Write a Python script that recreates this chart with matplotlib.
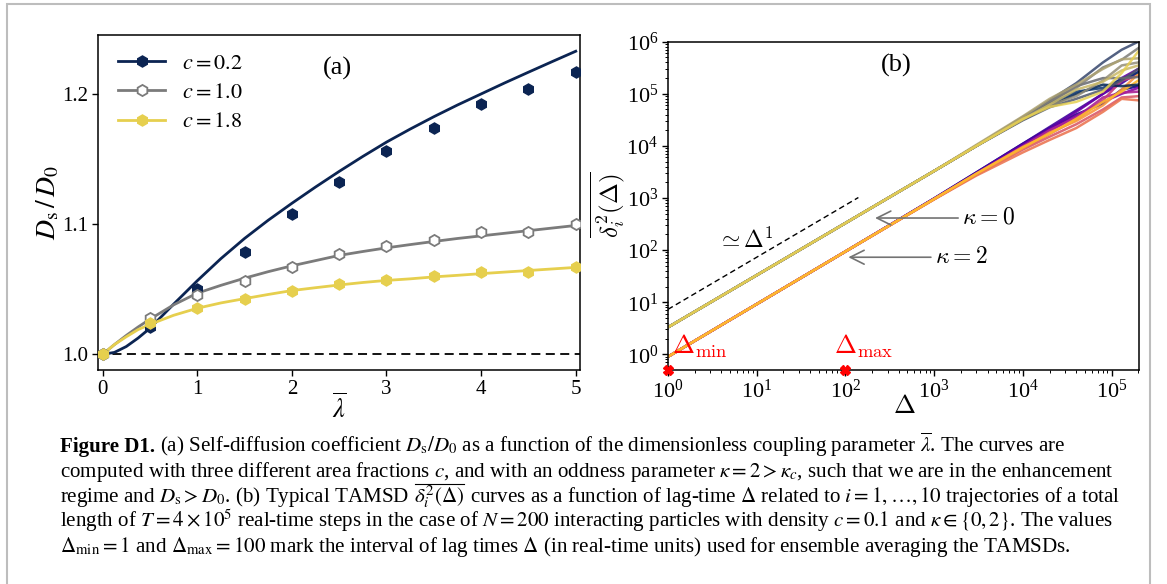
import numpy as np
import matplotlib
matplotlib.use('Agg')
import matplotlib.pyplot as plt
from matplotlib.patches import Rectangle
from matplotlib.lines import Line2D

plt.rcParams['font.family'] = ['Liberation Serif', 'DejaVu Serif']
plt.rcParams['mathtext.fontset'] = 'stix'

# ---------------- Panel (a) data ----------------
lam_sim = [0, 0.5, 1, 1.5, 2, 2.5, 3, 3.5, 4, 4.5, 5]
sim_c02 = [1.000, 1.021, 1.0505, 1.079, 1.108, 1.132, 1.156, 1.1736, 1.192, 1.204, 1.217]
sim_c10 = [1.000, 1.0277, 1.0456, 1.0567, 1.0674, 1.0769, 1.0831, 1.088, 1.0938, 1.0936, 1.100]
sim_c18 = [1.000, 1.0244, 1.0354, 1.0428, 1.049, 1.0538, 1.0572, 1.0603, 1.0631, 1.0636, 1.0669]

lam_th = [0, 0.125, 0.25, 0.375, 0.5, 0.75, 1, 1.25, 1.5, 1.75, 2, 2.25, 2.5, 2.75, 3,
          3.25, 3.5, 3.75, 4, 4.25, 4.5, 4.75, 5]
th_c02 = [1.000, 1.0015, 1.006, 1.0125, 1.020, 1.0385, 1.0565, 1.0735, 1.089, 1.103, 1.116,
          1.1285, 1.1405, 1.152, 1.163, 1.173, 1.1825, 1.1915, 1.200, 1.2085, 1.2167,
          1.2248, 1.2328]
th_c10 = [1.000, 1.0075, 1.0145, 1.021, 1.027, 1.038, 1.047, 1.053, 1.0585, 1.0635, 1.068,
          1.072, 1.076, 1.079, 1.0818, 1.0843, 1.0867, 1.089, 1.091, 1.093, 1.095, 1.097,
          1.099]
th_c18 = [1.000, 1.0075, 1.0135, 1.019, 1.023, 1.030, 1.0354, 1.0395, 1.0428, 1.046, 1.049,
          1.0512, 1.0533, 1.0552, 1.0568, 1.058, 1.0595, 1.0607, 1.062, 1.0632, 1.0644,
          1.0656, 1.0668]

labels_a = ['$c = 0.2$', '$c = 1.0$', '$c = 1.8$']
colors_a = ['#0b2452', '#7b7b7b', '#e6cf4e']

# ---------------- Panel (b) data ----------------
lag = [1, 10, 100, 1000, 3000, 1e4, 2e4, 4e4, 8e4, 1.3e5, 2e5]
tamsd_k0 = [
    [3.3, 33, 330, 3300, 1.0e4, 3.2e4, 5.8e4, 1.0e5, 1.5e5, 1.4e5, 1.5e5],
    [3.3, 33, 330, 3300, 1.0e4, 3.4e4, 6.5e4, 1.1e5, 1.3e5, 1.9e5, 2.6e5],
    [3.3, 33, 330, 3300, 1.0e4, 3.5e4, 7.5e4, 1.6e5, 4.0e5, 7.0e5, 1.0e6],
    [3.3, 33, 330, 3300, 1.0e4, 3.1e4, 5.5e4, 8.0e4, 1.2e5, 1.8e5, 3.0e5],
    [3.3, 33, 330, 3300, 1.0e4, 3.3e4, 6.8e4, 1.4e5, 2.0e5, 2.0e5, 2.1e5],
    [3.3, 33, 330, 3300, 1.0e4, 3.6e4, 7.2e4, 1.3e5, 3.2e5, 4.5e5, 7.5e5],
    [3.3, 33, 330, 3300, 1.0e4, 3.4e4, 6.0e4, 9.0e4, 1.8e5, 3.5e5, 4.0e5],
    [3.3, 33, 330, 3300, 1.05e4, 3.7e4, 8.0e4, 1.5e5, 3.0e5, 4.6e5, 4.8e5],
    [3.3, 33, 330, 3300, 1.0e4, 3.2e4, 6.2e4, 1.2e5, 1.7e5, 2.8e5, 3.5e5],
    [3.3, 33, 330, 3300, 1.0e4, 3.3e4, 5.6e4, 7.0e4, 1.1e5, 2.5e5, 6.5e5],
]
tamsd_k2 = [
    [0.9, 9.2, 94, 980, 3100, 1.1e4, 2.2e4, 4.0e4, 6.5e4, 1.2e5, 1.4e5],
    [0.9, 9.2, 94, 980, 3100, 1.1e4, 2.3e4, 4.8e4, 1.0e5, 1.6e5, 2.6e5],
    [0.9, 9.2, 94, 970, 3000, 1.05e4, 2.1e4, 4.5e4, 1.0e5, 2.0e5, 3.0e5],
    [0.9, 9.2, 94, 960, 2900, 9.5e3, 1.9e4, 3.8e4, 7.0e4, 1.0e5, 1.3e5],
    [0.9, 9.2, 94, 960, 2900, 9.8e3, 2.0e4, 3.5e4, 8.5e4, 1.05e5, 1.1e5],
    [0.9, 9.2, 94, 950, 2850, 9.0e3, 1.7e4, 3.2e4, 7.5e4, 1.8e5, 2.2e5],
    [0.9, 9.2, 94, 950, 2800, 8.5e3, 1.5e4, 2.6e4, 5.0e4, 8.5e4, 9.0e4],
    [0.9, 9.2, 94, 940, 2700, 7.5e3, 1.3e4, 2.2e4, 4.5e4, 8.0e4, 7.5e4],
    [0.9, 9.2, 94, 950, 2900, 9.0e3, 1.8e4, 3.0e4, 6.0e4, 1.2e5, 2.4e5],
    [0.9, 9.2, 94, 960, 2950, 9.5e3, 1.7e4, 3.3e4, 7.0e4, 1.1e5, 1.8e5],
]
guide_lag = [1, 140]
guide_val = [7.3, 1022]
marks_lag = [1, 100]

# ---------------- Figure ----------------
W, H = 1167, 584
fig = plt.figure(figsize=(W / 100, H / 100), dpi=100)

fig.add_artist(Rectangle((7 / W, -0.05), (1150 - 7) / W, 1 - 4 / H + 0.05,
                         transform=fig.transFigure, fill=False,
                         edgecolor='#bdbdbd', lw=1.5))

def px_axes(l, r, t, b):
    return [l / W, (H - b) / H, (r - l) / W, (b - t) / H]

# ---- panel (a)
axa = fig.add_axes(px_axes(98.3, 580, 34.7, 370))
axa.axhline(1.0, color='k', ls=(0, (5, 3)), lw=1.3, zorder=1)
for th, sim, col, i in zip([th_c02, th_c10, th_c18], [sim_c02, sim_c10, sim_c18],
                           colors_a, range(3)):
    axa.plot(lam_th, th, color=col, lw=2.0, zorder=2 + i)
    if i == 1:
        axa.plot(lam_sim, sim, ls='none', marker='h', ms=8, mfc='white', mec=col,
                 mew=1.3, zorder=5 + i)
    else:
        axa.plot(lam_sim, sim, ls='none', marker='h', ms=8, mfc=col, mec=col,
                 mew=1.0, zorder=5 + i)
axa.set_xlim(-0.045, 5.045)
axa.set_ylim(0.988, 1.2455)
axa.set_xticks([0, 1, 2, 3, 4, 5])
axa.set_yticks([1.0, 1.1, 1.2])
axa.set_yticklabels(['1.0', '1.1', '1.2'])
axa.tick_params(labelsize=15, length=4, width=1, direction='out', pad=3)
for s in axa.spines.values():
    s.set_linewidth(1.1)

handles = []
for i, col in enumerate(colors_a):
    if i == 1:
        h = Line2D([], [], color=col, lw=2.0, marker='h', ms=8, mfc='white', mec=col, mew=1.3)
    else:
        h = Line2D([], [], color=col, lw=2.0, marker='h', ms=8, mfc=col, mec=col)
    handles.append(h)
axa.legend(handles, labels_a, loc='upper left', frameon=False, fontsize=16,
           handlelength=2.1, handletextpad=0.75, labelspacing=0.4,
           bbox_to_anchor=(0.0, 1.005), borderaxespad=0.5)
axa.text(0.497, 0.9, '(a)', transform=axa.transAxes, ha='center', va='center',
         fontsize=19)
axa.text(-0.104, 0.498, r'$D_{\mathrm{s}}\,/\,D_0$', transform=axa.transAxes,
         rotation=90, ha='center', va='center', fontsize=20)
axa.text(0.4997, -0.113, r'$\overline{\lambda}$', transform=axa.transAxes,
         ha='center', va='center', fontsize=19)

# ---- panel (b)
axb = fig.add_axes(px_axes(668, 1139, 41.7, 370))
axb.set_xscale('log')
axb.set_yscale('log')
cols0 = plt.get_cmap('cividis')(np.linspace(0.0, 0.9, len(tamsd_k0)))
cols2 = plt.get_cmap('plasma')(np.linspace(0.0, 0.85, len(tamsd_k2)))
for k, series in enumerate(tamsd_k2):
    axb.plot(lag, series, color=cols2[k], lw=1.8, alpha=0.9, zorder=2)
for k, series in enumerate(tamsd_k0):
    axb.plot(lag, series, color=cols0[k], lw=1.8, alpha=0.85, zorder=2)
axb.plot(guide_lag, guide_val, color='k', ls=(0, (4, 2.5)), lw=1.0, zorder=3)
axb.plot(marks_lag, [0.5, 0.5], ls='none', marker='X', ms=7, color='red',
         clip_on=False, zorder=6)
axb.set_xlim(1, 2.04e5)
axb.set_ylim(0.5, 1e6)
axb.set_xticks([1, 10, 100, 1e3, 1e4, 1e5])
axb.set_yticks([1, 10, 100, 1e3, 1e4, 1e5, 1e6])
axb.tick_params(which='major', labelsize=16, length=4, width=1, direction='out', pad=3)
axb.tick_params(which='minor', length=2, width=0.7, direction='out')
for s in axb.spines.values():
    s.set_linewidth(1.1)

axb.annotate(r'$\kappa = 0$', xy=(216, 413), xytext=(2080, 413), ha='left', va='center',
             fontsize=17, math_fontfamily='cm',
             arrowprops=dict(arrowstyle='->', color='0.45', lw=1.2, mutation_scale=25,
                             shrinkA=1, shrinkB=0))
axb.annotate(r'$\kappa = 2$', xy=(108, 73), xytext=(1025, 73), ha='left', va='center',
             fontsize=17, math_fontfamily='cm',
             arrowprops=dict(arrowstyle='->', color='0.45', lw=1.2, mutation_scale=25,
                             shrinkA=1, shrinkB=0))
axb.text(3.55, 10 ** 2.04, r'$\simeq\Delta^1$', fontsize=17, math_fontfamily='cm',
         ha='left', va='baseline')
axb.text(1.10, 1.045, r'$\Delta_{\mathrm{min}}$', color='red', fontsize=19,
         math_fontfamily='cm', ha='left', va='baseline')
axb.text(75, 1.045, r'$\Delta_{\mathrm{max}}$', color='red', fontsize=19,
         math_fontfamily='cm', ha='left', va='baseline')
axb.text(370, 3.5e5, '(b)', ha='center', va='center', fontsize=19)
axb.text(-0.127, 0.503, r'$\overline{\delta_i^2(\Delta)}$', transform=axb.transAxes,
         rotation=90, ha='center', va='center', fontsize=18, math_fontfamily='cm')
axb.text(0.501, -0.11, r'$\Delta$', transform=axb.transAxes, ha='center', va='center',
         fontsize=19, math_fontfamily='cm')

# ---- caption
cap_bold = 'Figure D1.'
cap_lines = [
    [r'(a) Self-diffusion coefficient $D_{\mathrm{s}}/D_0$ as a function of the dimensionless coupling parameter $\overline{\lambda}$. The curves are'],
    [r'computed with three different area fractions $c$, and with an oddness parameter $\kappa = 2 > \kappa_c$, such that we are in the enhancement'],
    [r'regime and $D_{\mathrm{s}} > D_0$. (b) Typical TAMSD', r'$\delta_i^2(\Delta)$',
     r'curves as a function of lag-time $\Delta$ related to $i = 1, \ldots, 10$ trajectories of a total'],
    [r'length of $T = 4 \times 10^5$ real-time steps in the case of $N = 200$ interacting particles with density $c = 0.1$ and $\kappa \in \{0, 2\}$. The values'],
    [r'$\Delta_{\mathrm{min}} = 1$ and $\Delta_{\mathrm{max}} = 100$ mark the interval of lag times $\Delta$ (in real-time units) used for ensemble averaging the TAMSDs.'],
]
cap_x = 60
cap_base = [452, 477, 502, 527, 552]
target_w = 1112 - 60

fig.canvas.draw()
renderer = fig.canvas.get_renderer()
probe = fig.text(0, 0, cap_lines[1][0], fontsize=12)
w12 = probe.get_window_extent(renderer).width
probe.remove()
fs = 12 * target_w / w12
space = 0.25 * fs * 100 / 72

tb = fig.text(cap_x / W, 1 - cap_base[0] / H, cap_bold, fontsize=fs, fontweight='bold',
              va='baseline', ha='left')
bw = tb.get_window_extent(renderer).width
for i, pieces in enumerate(cap_lines):
    x = cap_x + (bw + space if i == 0 else 0)
    for j, piece in enumerate(pieces):
        t = fig.text(x / W, 1 - cap_base[i] / H, piece, fontsize=fs, va='baseline',
                     ha='left')
        bb = t.get_window_extent(renderer)
        if i == 2 and j == 1:
            yl = bb.y1 - 1.5
            fig.add_artist(Line2D([bb.x0 + 1, bb.x1 - 0.5], [yl, yl], transform=None,
                                  color='k', lw=0.8))
        x = x + bb.width + space

fig.savefig('out.png', dpi=100)
